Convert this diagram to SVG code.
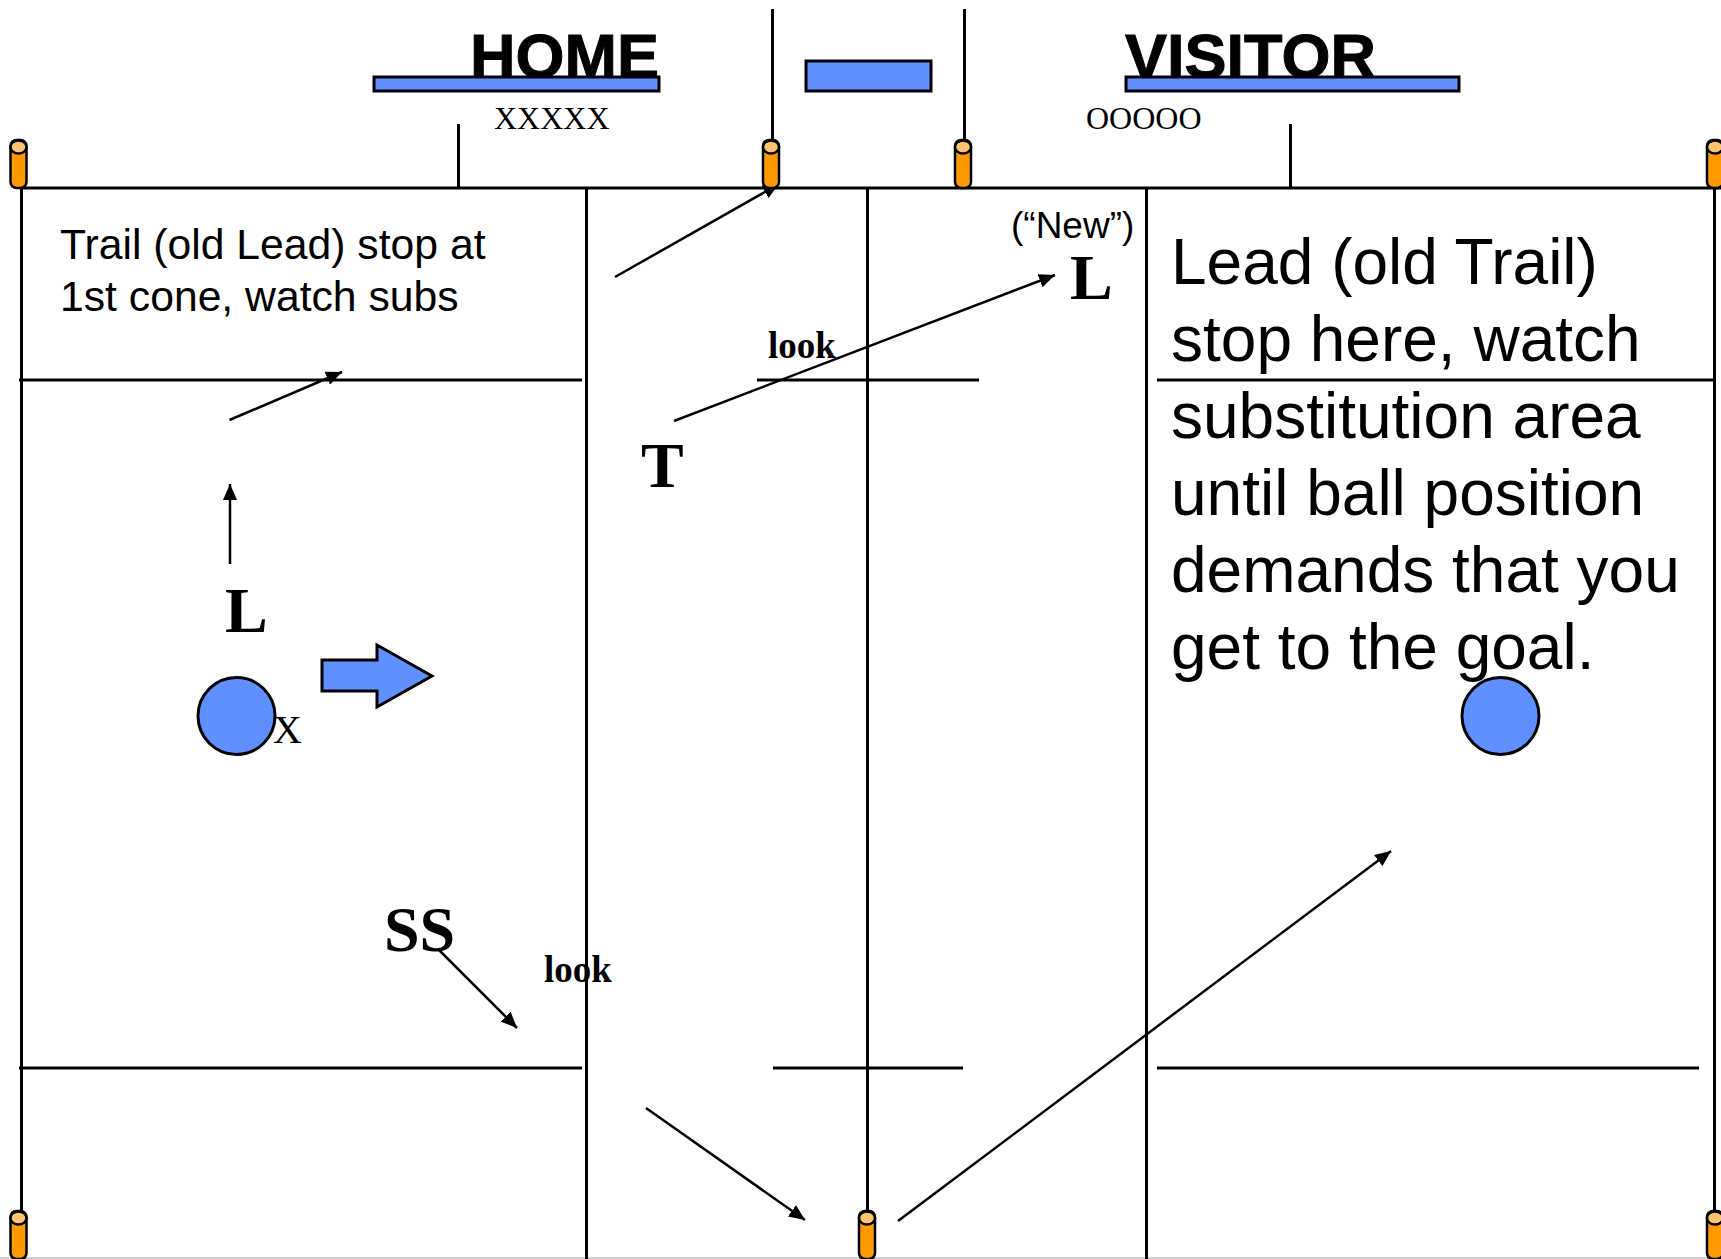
<svg xmlns="http://www.w3.org/2000/svg" width="1721" height="1259" viewBox="0 0 1721 1259">
<style>
.l{stroke:#000;stroke-width:3;fill:none}
.a{stroke:#000;stroke-width:2.500;fill:none;marker-end:url(#ah)}
.b{fill:#6090ff;stroke:#000;stroke-width:3}
.s{font-family:"Liberation Sans",Arial,sans-serif;fill:#000}
.t{font-family:"Liberation Serif","Times New Roman",serif;fill:#000}
.tb{font-family:"Liberation Serif","Times New Roman",serif;font-weight:bold;fill:#000}
.c1{fill:#ff9900;stroke:#000;stroke-width:2.500}
.c2{fill:#ffc46e;stroke:#000;stroke-width:2.500}
</style>
<defs>
<marker id="ah" markerUnits="userSpaceOnUse" markerWidth="18" markerHeight="14" refX="16" refY="7" orient="auto"><path d="M0 0L16 7L0 14z" fill="#000"/></marker>
<g id="cone"><rect class="c1" x="-8" y="-1" width="16" height="48" rx="6"/><ellipse class="c2" cx="0" cy="6" rx="8" ry="6.500"/></g>
</defs>
<rect width="1721" height="1259" fill="#fff"/>
<line x1="0" y1="1258" x2="1721" y2="1258" stroke="#c0c0c0" stroke-width="1.500"/>
<g id="connectors">
<path class="l" d="M20 188H1721M21.500 188V1259M586.500 188V1259M867.500 188V1259M1146.500 188V1259M1714.500 188V1259"/>
<path class="l" d="M458.500 124V188M1290.500 124V188M772.500 9V140M964.500 9V140"/>
<path class="l" d="M19 380H582M757 380H979M1157 380H1714M19 1068H582M773 1068H963M1157 1068H1699"/>
<line class="a" x1="615" y1="277" x2="779" y2="184"/>
<line class="a" x1="229.500" y1="420" x2="342" y2="372"/>
<line class="a" x1="674" y1="421" x2="1055" y2="275"/>
<line class="a" x1="230" y1="564" x2="230" y2="484"/>
<line class="a" x1="439" y1="950" x2="517" y2="1028"/>
<line class="a" x1="646" y1="1108" x2="805" y2="1220"/>
<line class="a" x1="898" y1="1221" x2="1391" y2="851"/>
</g>
<g id="home"><text class="s" x="470" y="78" font-size="63" font-weight="bold" stroke="#000" stroke-width="1">HOME</text><rect class="b" x="374" y="77" width="285" height="14"/></g>
<g id="center-bar"><rect class="b" x="806" y="61" width="125" height="30"/></g>
<g id="visitor"><text class="s" x="1125" y="78" font-size="63" font-weight="bold" stroke="#000" stroke-width="1">VISITOR</text><rect class="b" x="1126" y="77" width="333" height="14"/></g>
<g id="home-players"><text class="t" x="494" y="129" font-size="32">XXXXX</text></g>
<g id="visitor-players"><text class="t" x="1086" y="129" font-size="32">OOOOO</text></g>
<g id="cones">
<use href="#cone" x="18.500" y="141"/><use href="#cone" x="771" y="141"/><use href="#cone" x="963" y="141"/><use href="#cone" x="1715" y="141"/>
<use href="#cone" x="18.500" y="1212"/><use href="#cone" x="867" y="1212"/><use href="#cone" x="1715" y="1212"/>
</g>
<g id="trail-note"><text class="s" font-size="42.700"><tspan x="60" y="259">Trail (old Lead) stop at</tspan><tspan x="60" y="311">1st cone, watch subs</tspan></text></g>
<g id="lead-note"><text class="s" font-size="64"><tspan x="1171" y="284">Lead (old Trail)</tspan><tspan x="1171" y="361">stop here, watch</tspan><tspan x="1171" y="438">substitution area</tspan><tspan x="1171" y="515">until ball position</tspan><tspan x="1171" y="592">demands that you</tspan><tspan x="1171" y="669">get to the goal.</tspan></text></g>
<g id="new-label"><text class="s" x="1011" y="238" font-size="37">(“New”)</text></g>
<g id="lead-new"><text class="tb" x="1070" y="299" font-size="64">L</text></g>
<g id="look-1"><text class="tb" x="768" y="358" font-size="37">look</text></g>
<g id="trail"><text class="tb" x="641" y="487" font-size="64">T</text></g>
<g id="lead"><text class="tb" x="225" y="632" font-size="64">L</text></g>
<g id="ball-left"><circle class="b" cx="236.500" cy="716" r="38.500"/></g>
<g id="x-mark"><text class="t" x="273" y="743" font-size="40">X</text></g>
<g id="direction-arrow"><path class="b" d="M322 660H377V645L432 676L377 707V691H322z"/></g>
<g id="ball-right"><circle class="b" cx="1500.500" cy="716" r="38.500"/></g>
<g id="ss"><text class="tb" x="384" y="951" font-size="64">SS</text></g>
<g id="look-2"><text class="tb" x="544" y="982" font-size="37">look</text></g>
</svg>
